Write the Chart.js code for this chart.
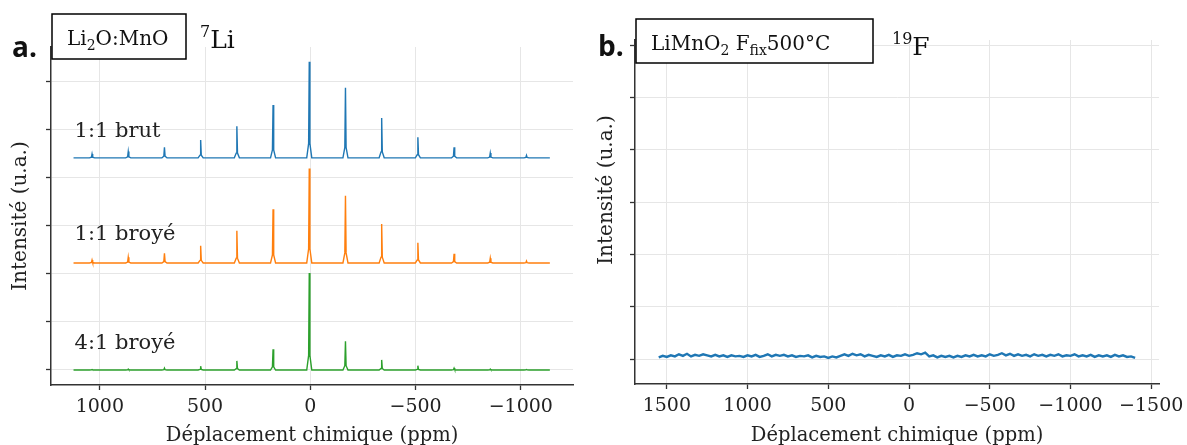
<!DOCTYPE html>
<html>
<head>
<meta charset="utf-8">
<script src="https://cdn.jsdelivr.net/npm/chart.js@4/dist/chart.umd.min.js"></script>
<style>
  html, body { margin: 0; padding: 0; background: #fff; }
  #wrap { position: relative; width: 1187px; height: 445px; }
  #c1 { position: absolute; left: 0; top: 0; }
  #c2 { position: absolute; left: 590px; top: 0; }
</style>
</head>
<body>
<div id="wrap">
  <canvas id="c1" width="590" height="445"></canvas>
  <canvas id="c2" width="597" height="445"></canvas>
</div>
<script>

// a. 7Li : positions des pics (ppm) et hauteurs pour chaque échantillon
const picsPos = [1037, 865, 693, 521, 349, 177, 5, -167, -339, -511, -683, -855, -1027];
const brut11 = [0.08, 0.13, 0.22, 0.37, 0.66, 1.10, 2.00, 1.46, 0.83, 0.43, 0.22, 0.10, 0.05];
const broye11 = [0.06, 0.12, 0.20, 0.36, 0.67, 1.12, 1.97, 1.40, 0.81, 0.42, 0.19, 0.10, 0.04];
const broye41 = [0.01, 0.02, 0.04, 0.08, 0.19, 0.43, 2.02, 0.60, 0.21, 0.09, 0.04, 0.02, 0.01];
const decalages = [4.42, 2.23, 0];
const etiquettes = ['1:1 brut', '1:1 broyé', '4:1 broyé'];
const etiquettesY = [4.85, 2.71, 0.44];

// b. 19F : signal plat (bruit)
const fluorX = [1550, 1525, 1500, 1475, 1450, 1425, 1400, 1375, 1350, 1325,
  1300, 1275, 1250, 1225, 1200, 1175, 1150, 1125, 1100, 1075,
  1050, 1025, 1000, 975, 950, 925, 900, 875, 850, 825,
  800, 775, 750, 725, 700, 675, 650, 625, 600, 575,
  550, 525, 500, 475, 450, 425, 400, 375, 350, 325,
  300, 275, 250, 225, 200, 175, 150, 125, 100, 75,
  50, 25, 0, -25, -50, -75, -100, -125, -150, -175,
  -200, -225, -250, -275, -300, -325, -350, -375, -400, -425,
  -450, -475, -500, -525, -550, -575, -600, -625, -650, -675,
  -700, -725, -750, -775, -800, -825, -850, -875, -900, -925,
  -950, -975, -1000, -1025, -1050, -1075, -1100, -1125, -1150, -1175,
  -1200, -1225, -1250, -1275, -1300, -1325, -1350, -1375, -1400];
const fluorY = [0.03, 0.06, 0.04, 0.07, 0.05, 0.09, 0.06, 0.10, 0.05, 0.08,
  0.06, 0.09, 0.07, 0.05, 0.08, 0.05, 0.07, 0.04, 0.07, 0.05,
  0.06, 0.04, 0.07, 0.05, 0.08, 0.04, 0.06, 0.09, 0.05, 0.08,
  0.06, 0.08, 0.05, 0.07, 0.04, 0.06, 0.05, 0.07, 0.03, 0.06,
  0.04, 0.05, 0.02, 0.05, 0.03, 0.06, 0.09, 0.06, 0.10, 0.07,
  0.09, 0.05, 0.08, 0.06, 0.04, 0.07, 0.05, 0.08, 0.04, 0.07,
  0.06, 0.09, 0.06, 0.08, 0.11, 0.09, 0.12, 0.05, 0.07, 0.03,
  0.06, 0.04, 0.06, 0.03, 0.06, 0.04, 0.07, 0.05, 0.08, 0.05,
  0.07, 0.05, 0.09, 0.06, 0.08, 0.11, 0.07, 0.10, 0.06, 0.09,
  0.06, 0.08, 0.05, 0.09, 0.06, 0.08, 0.05, 0.08, 0.06, 0.09,
  0.05, 0.07, 0.06, 0.09, 0.05, 0.07, 0.05, 0.08, 0.04, 0.07,
  0.05, 0.07, 0.04, 0.08, 0.05, 0.07, 0.04, 0.05, 0.02];

// graduations
const ticksXa = [1000, 500, 0, -500, -1000];
const ticksXb = [1500, 1000, 500, 0, -500, -1000, -1500];
const ticksY = [0, 1, 2, 3, 4, 5, 6];

const couleurs = ['#1f77b4', '#ff7f0e', '#2ca02c'];
const grille = '#e6e6e6';
const serif = "'DejaVu Serif', serif";

// un spectre = ligne de base + pics fins
function spectre(hauteurs, base) {
  const pts = [{ x: 1125, y: base }];
  picsPos.forEach((p, i) => {
    const h = hauteurs[i];
    pts.push({ x: p + 12, y: base }, { x: p + 3, y: base + h * 0.15 }, { x: p, y: base + h },
      { x: p - 3, y: base + h * 0.15 }, { x: p - 12, y: base });
  });
  pts.push({ x: -1138, y: base });
  return pts;
}

function axeX(min, max, ticks, hauteur) {
  return {
    type: 'linear', reverse: true, min: min, max: max,
    afterBuildTicks: s => { s.ticks = ticks.map(v => ({ value: v })); },
    afterFit: s => { s.height = hauteur; s.paddingLeft = 0; s.paddingRight = 0; },
    grid: { color: grille, lineWidth: 1, tickColor: '#333', tickLength: 5, tickWidth: 1.3 },
    border: { color: '#333', width: 1.5 },
    ticks: {
      color: '#222', font: { family: serif, size: 19 }, padding: 6, maxRotation: 0, autoSkip: false,
      callback: v => v < 0 ? '\u2212' + Math.abs(v) : String(v),
    },
  };
}

function axeY(min, max, largeur) {
  return {
    type: 'linear', min: min, max: max,
    afterBuildTicks: s => { s.ticks = ticksY.map(v => ({ value: v })); },
    afterFit: s => { s.width = largeur; },
    grid: { color: grille, lineWidth: 1, tickColor: '#333', tickLength: 5, tickWidth: 1.3 },
    border: { color: '#333', width: 1.5 },
    ticks: { display: false },
  };
}

// texte en plusieurs morceaux (indices / exposants)
function morceaux(c, x, y, parts) {
  c.textAlign = 'left';
  c.textBaseline = 'alphabetic';
  parts.forEach(([txt, taille, dy]) => {
    c.font = taille + 'px ' + serif;
    c.fillText(txt, x, y + dy);
    x += c.measureText(txt).width;
  });
}

function cadre(c, x, y, w, h) {
  c.fillStyle = '#fff';
  c.fillRect(x, y, w, h);
  c.strokeStyle = '#000';
  c.lineWidth = 1.5;
  c.strokeRect(x, y, w, h);
}

function titres(c, cx, yTitreX, xTitreY, cyTitreY) {
  c.fillStyle = '#222';
  c.font = '19.5px ' + serif;
  c.textAlign = 'center';
  c.textBaseline = 'alphabetic';
  c.fillText('Déplacement chimique (ppm)', cx, yTitreX);
  c.save();
  c.translate(xTitreY, cyTitreY);
  c.rotate(-Math.PI / 2);
  c.font = '20px ' + serif;
  c.textBaseline = 'middle';
  c.fillText('Intensité (u.a.)', 0, 0);
  c.restore();
}

const texteA = {
  id: 'texteA',
  afterDraw(chart) {
    const c = chart.ctx;
    const sx = chart.scales.x, sy = chart.scales.y;
    c.save();
    titres(c, (chart.chartArea.left + chart.chartArea.right) / 2, 441, 21, 216);
    c.fillStyle = '#222';
    etiquettes.forEach((t, i) => {
      morceaux(c, sx.getPixelForValue(1120), sy.getPixelForValue(etiquettesY[i]), [[t, 21, 0]]);
    });
    cadre(c, 52, 14, 134, 45);
    c.fillStyle = '#111';
    morceaux(c, 67, 45, [['Li', 20, 0], ['2', 14, 5], ['O:MnO', 20, 0]]);
    morceaux(c, 200, 48, [['7', 16, -11], ['Li', 25, 0]]);
    c.font = "bold 28px 'Open Sans', sans-serif";
    c.fillText('a.', 12, 57);
    c.restore();
  }
};

const texteB = {
  id: 'texteB',
  afterDraw(chart) {
    const c = chart.ctx;
    c.save();
    titres(c, (chart.chartArea.left + chart.chartArea.right) / 2, 441, 17, 190);
    cadre(c, 46, 19, 237, 44);
    c.fillStyle = '#111';
    morceaux(c, 61, 50, [['LiMnO', 20, 0], ['2', 14, 5], [' F', 20, 0], ['fix', 14, 5], ['500°C', 20, 0]]);
    morceaux(c, 302, 55, [['19', 16, -11], ['F', 25, 0]]);
    c.font = "bold 28px 'Open Sans', sans-serif";
    c.fillText('b.', 8, 56);
    c.restore();
  }
};

// ↓ a. spectres 7Li ↓
new Chart(document.getElementById('c1'), {
  type: 'line',
  data: {
    datasets: [brut11, broye11, broye41].map((h, i) => ({
      label: etiquettes[i],
      data: spectre(h, decalages[i]),
      borderColor: couleurs[i],
      borderWidth: 1.4,
      pointRadius: 0,
      tension: 0,
      fill: false,
    })),
  },
  options: {
    responsive: false,
    animation: false,
    layout: { padding: { top: 47, right: 17, bottom: 0, left: 0 } },
    plugins: { legend: { display: false }, tooltip: { enabled: false } },
    scales: {
      x: axeX(-1248, 1232, ticksXa, 60),
      y: axeY(-0.3125, 6.729, 51),
    },
  },
  plugins: [texteA],
});

// ↓ b. spectre 19F ↓
new Chart(document.getElementById('c2'), {
  type: 'line',
  data: {
    datasets: [{
      label: '19F',
      data: fluorX.map((x, i) => ({ x: x, y: fluorY[i] })),
      borderColor: couleurs[0],
      borderWidth: 2.4,
      pointRadius: 0,
      tension: 0,
      fill: false,
    }],
  },
  options: {
    responsive: false,
    animation: false,
    layout: { padding: { top: 40, right: 28, bottom: 0, left: 0 } },
    plugins: { legend: { display: false }, tooltip: { enabled: false } },
    scales: {
      x: axeX(-1548, 1697, ticksXb, 61),
      y: axeY(-0.478, 6.1, 45),
    },
  },
  plugins: [texteB],
});
</script>
</body>
</html>
